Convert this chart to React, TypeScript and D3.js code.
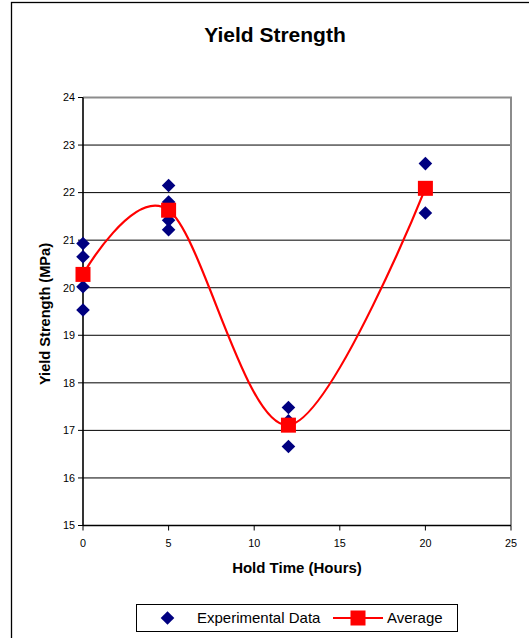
import React from "react";
import * as d3 from "d3";

const expX = [0, 0, 0, 0, 5, 5, 5, 5, 12, 12, 12, 20, 20];
const expY = [20.93, 20.65, 20.02, 19.53, 22.15, 21.8, 21.42, 21.22, 17.48, 17.2, 16.66, 22.61, 21.57];
const avgX = [0, 5, 12, 20];
const avgY = [20.28, 21.63, 17.11, 22.09];
const xTicks = [0, 5, 10, 15, 20, 25];
const yTicks = [15, 16, 17, 18, 19, 20, 21, 22, 23, 24];

const W = 529;
const H = 638;
const FONT = "Arial, 'Liberation Sans', Helvetica, sans-serif";

export default function App() {
  const x = d3.scaleLinear().domain([0, 25]).range([83, 511]);
  const y = d3.scaleLinear().domain([15, 24]).range([525.5, 97.5]);

  const avgPts: [number, number][] = avgX.map((v, i) => [x(v), y(avgY[i])]);
  const line = d3.line().curve(d3.curveCardinal.tension(0))(avgPts) || "";

  const diamond = (cx: number, cy: number, r = 6.8) =>
    `M${cx},${cy - r}L${cx + r},${cy}L${cx},${cy + r}L${cx - r},${cy}Z`;

  const x0 = x(0);
  const x1 = x(25);
  const yb = y(15);
  const yt = y(24);

  return (
    <svg
      width={W}
      height={H}
      style={{ position: "absolute", left: 0, top: 0, display: "block", background: "#fff" }}
      fontFamily={FONT}
    >
      <rect x={0} y={0} width={W} height={H} fill="#fff" />
      {/* outer chart border */}
      <rect x={11.5} y={2.5} width={540} height={660} fill="none" stroke="#000" strokeWidth={1.3} />

      <text x={275} y={41.5} textAnchor="middle" fontSize={21} fontWeight="bold">
        Yield Strength
      </text>

      {/* gridlines */}
      {yTicks.filter((t) => t !== 15 && t !== 24).map((t) => (
        <line key={"g" + t} x1={x0} x2={x1} y1={y(t)} y2={y(t)} stroke="#000" strokeWidth={1} />
      ))}
      {/* plot border top/right gray */}
      <path d={`M${x0},${yt}H${x1}V${yb}`} fill="none" stroke="#8c8c8c" strokeWidth={2} />
      {/* axes */}
      <line x1={x0} x2={x1} y1={yb} y2={yb} stroke="#000" strokeWidth={1.6} />
      <line x1={x0} x2={x0} y1={yt} y2={yb} stroke="#000" strokeWidth={1.6} />

      {yTicks.map((t) => (
        <g key={"y" + t}>
          <line x1={x0 - 5} x2={x0} y1={y(t)} y2={y(t)} stroke="#000" strokeWidth={1} />
          <text x={75} y={y(t)} dy="0.35em" textAnchor="end" fontSize={10.8}>
            {t}
          </text>
        </g>
      ))}
      {xTicks.map((t) => (
        <g key={"x" + t}>
          <line x1={x(t)} x2={x(t)} y1={yb} y2={yb + 5} stroke="#000" strokeWidth={1} />
          <text x={x(t)} y={547} textAnchor="middle" fontSize={10.8}>
            {t}
          </text>
        </g>
      ))}

      <text x={297} y={573} textAnchor="middle" fontSize={15} fontWeight="bold">
        Hold Time (Hours)
      </text>
      <text
        transform={`translate(49.5,314) rotate(-90)`}
        textAnchor="middle"
        fontSize={14.6}
        fontWeight="bold"
      >
        Yield Strength (MPa)
      </text>

      {/* experimental data */}
      {expX.map((v, i) => (
        <path key={"e" + i} d={diamond(x(v), y(expY[i]))} fill="#000080" />
      ))}

      {/* average */}
      <path d={line} fill="none" stroke="#ff0000" strokeWidth={2.2} />
      {avgPts.map(([px, py], i) => (
        <rect key={"a" + i} x={px - 7.5} y={py - 7.5} width={15} height={15} fill="#ff0000" />
      ))}

      {/* legend */}
      <rect x={136.5} y={604.5} width={321} height={27} fill="#fff" stroke="#000" strokeWidth={1} />
      <path d={diamond(167.5, 618)} fill="#000080" />
      <text x={197} y={623} fontSize={15}>
        Experimental Data
      </text>
      <line x1={333} x2={383} y1={618} y2={618} stroke="#ff0000" strokeWidth={2.2} />
      <rect x={358 - 7.5} y={618 - 7.5} width={15} height={15} fill="#ff0000" />
      <text x={387} y={623} fontSize={15}>
        Average
      </text>
    </svg>
  );
}
